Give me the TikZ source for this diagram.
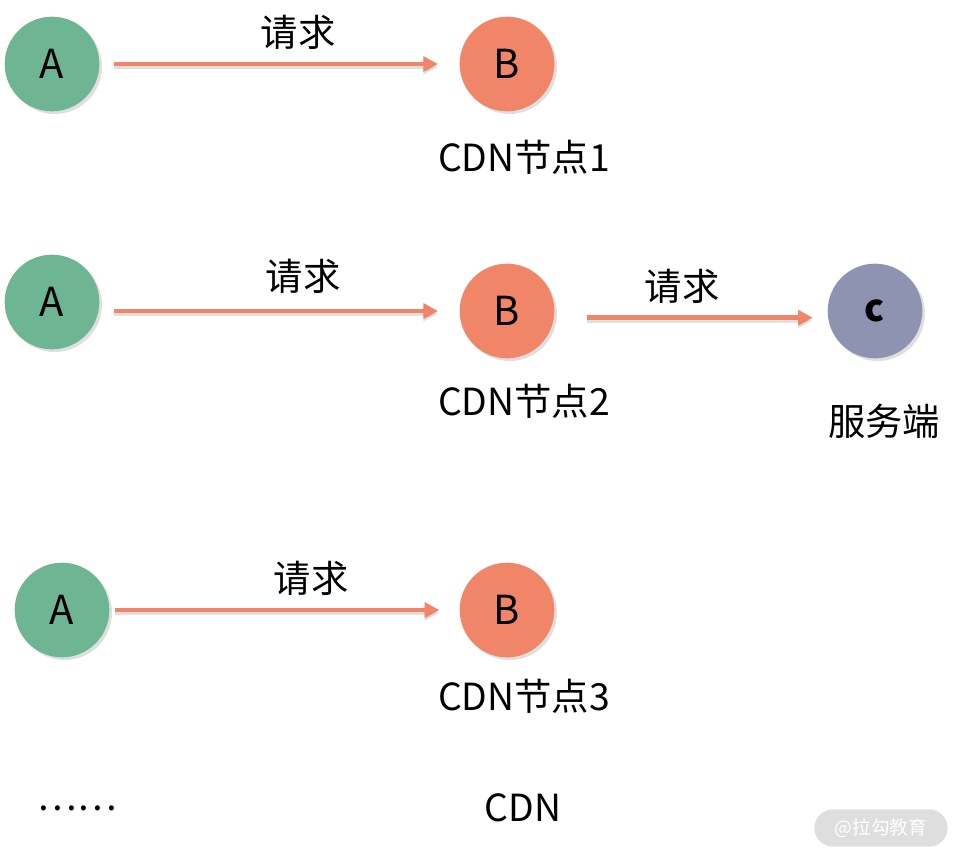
\documentclass[tikz,border=0pt]{standalone}
\usepackage{fontspec}
\setmainfont{Noto Sans CJK SC}
\usepackage{xcolor}
\usetikzlibrary{positioning,arrows.meta,shadows}

\definecolor{clientgreen}{HTML}{6EB593}
\definecolor{cdnorange}{HTML}{F08568}
\definecolor{serverblue}{HTML}{8F93B2}
\definecolor{markgray}{HTML}{DEDEDE}

\tikzset{
	peer/.style={circle,minimum size=71pt,inner sep=0pt,font=\fontsize{30}{32}\selectfont,
		drop shadow={shadow xshift=2pt,shadow yshift=-2pt,opacity=0.25}},
	req/.style={->,line width=3.5pt,draw=cdnorange,
		preaction={draw=black,opacity=0.12,line width=3.5pt,transform canvas={yshift=-2pt}}},
	txt/.style={font=\fontsize{28}{30}\selectfont,inner sep=0pt}
}

\begin{document}
\begin{tikzpicture}[x=0.75pt,y=-0.75pt,>={Triangle[length=11pt,width=11pt]}]
	\useasboundingbox (0,0) rectangle (963,860);

	% first request: cache hit
	\node[peer,fill=clientgreen] (a1) at (52,64) {A};
	\node[peer,fill=cdnorange] (b1) at (507,64) {B};
	\node[txt] (n1) at (524,157) {CDN节点1};
	\draw[req,shorten <=11pt,shorten >=16pt] (a1) -- (b1);
	\node[txt] (r1) at (298,32) {请求};

	% second request: back to the server
	\node[peer,fill=clientgreen] (a2) at (52,302) {A};
	\node[peer,fill=cdnorange] (b2) at (507,311) {B};
	\node[peer,fill=serverblue,font=\fontsize{28}{30}\selectfont\bfseries] (c2) at (875,311) {c};
	\node[txt] (n2) at (524,401) {CDN节点2};
	\node[txt] (s2) at (884,421) {服务端};
	\draw[req,shorten <=11pt,shorten >=16pt] (a2.east |- b2) -- (b2);
	\node[txt] (r2) at (303,276) {请求};
	\draw[req,shorten <=24pt,shorten >=11pt] ([yshift=-5pt]b2.east) -- ([yshift=-5pt]c2.west);
	\node[txt] (r3) at (682,286) {请求};

	% third request
	\node[peer,fill=clientgreen] (a3) at (62,610) {A};
	\node[peer,fill=cdnorange] (b3) at (507,610) {B};
	\node[txt] (n3) at (524,696) {CDN节点3};
	\draw[req,shorten <=4pt,shorten >=15pt] (a3) -- (b3);
	\node[txt] (r4) at (311,578) {请求};

	\node[txt] (more) at (77,808) {……};
	\node[txt] (cdn) at (523,808) {CDN};

	% watermark
	\node[fill=markgray,rounded corners=14pt,minimum width=100pt,minimum height=28pt,
		text=white,font=\fontsize{14}{16}\selectfont] (mark) at (881,828) {@拉勾教育};
\end{tikzpicture}
\end{document}
